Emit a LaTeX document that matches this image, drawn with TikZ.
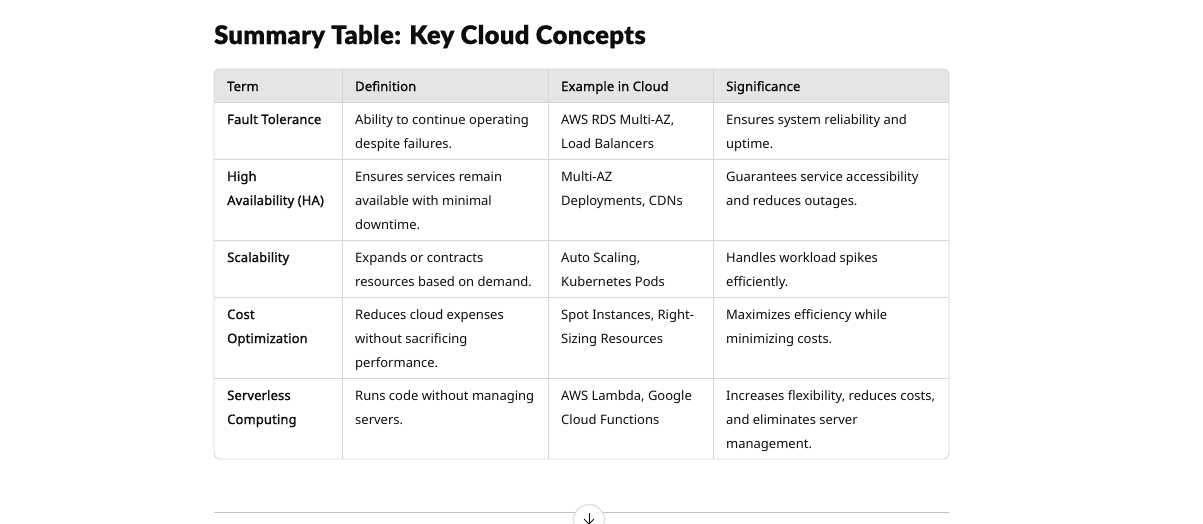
\documentclass[tikz,border=0pt]{standalone}
\usepackage{fontspec}
\setmainfont{Noto Sans}
\newfontfamily\semibold[FakeBold=1.3, LetterSpace=1]{Noto Sans}
\newfontfamily\titlefont[FakeBold=0.6, LetterSpace=1.5]{Lato Black}
\definecolor{hdr}{RGB}{229,229,229}
\definecolor{rule}{RGB}{214,214,214}
\definecolor{ink}{RGB}{13,13,13}
\tikzset{
  txt/.style={anchor=base west, inner sep=0pt, text=ink, font=\fontsize{13}{16}\selectfont},
  btxt/.style={txt, font=\semibold\fontsize{13}{16}\selectfont},
  gridline/.style={draw=rule, line width=0.9pt},
}
\newcommand\cellrows[5]{%
  \foreach \t [count=\i from 0] in {#4}
    \node[#5] (#3-\i) at (#1, #2+24*\i+5) {\t};}
\begin{document}
\begin{tikzpicture}[x=1pt,y=-1pt]
\useasboundingbox (0,0) rectangle (1203,523);
\fill[white] (0,0) rectangle (1203,523);
% title
\node[anchor=base west, inner sep=0pt, text=ink, font=\titlefont\fontsize{25.5}{28}\selectfont] (title) at (214,44) {Summary Table: Key Cloud Concepts};
% header
\fill[hdr, rounded corners=6pt] (214,69) rectangle (949,102);
\fill[hdr] (214,90) rectangle (949,102);
% row lines
\foreach \y in {102,159,240,297,378}
  \draw[gridline] (214,\y) -- (949,\y);
\foreach \x in {342,548,713}
  \draw[gridline] (\x,69) -- (\x,459);
\draw[gridline, rounded corners=6pt] (214,69) rectangle (949,459);
% header text
\cellrows{227}{86}{h1}{Term}{btxt}
\cellrows{355}{86}{h2}{Definition}{btxt}
\cellrows{561}{86}{h3}{Example in Cloud}{btxt}
\cellrows{726}{86}{h4}{Significance}{btxt}
% row 1
\cellrows{227}{119}{a1}{Fault Tolerance}{btxt}
\cellrows{355}{119}{a2}{Ability to continue operating,despite failures.}{txt}
\cellrows{561}{119}{a3}{{AWS RDS Multi-AZ,},Load Balancers}{txt}
\cellrows{726}{119}{a4}{Ensures system reliability and,uptime.}{txt}
% row 2
\cellrows{227}{176}{b1}{High,Availability (HA)}{btxt}
\cellrows{355}{176}{b2}{Ensures services remain,available with minimal,downtime.}{txt}
\cellrows{561}{176}{b3}{Multi-AZ,{Deployments, CDNs}}{txt}
\cellrows{726}{176}{b4}{Guarantees service accessibility,and reduces outages.}{txt}
% row 3
\cellrows{227}{257}{c1}{Scalability}{btxt}
\cellrows{355}{257}{c2}{Expands or contracts,resources based on demand.}{txt}
\cellrows{561}{257}{c3}{{Auto Scaling,},Kubernetes Pods}{txt}
\cellrows{726}{257}{c4}{Handles workload spikes,efficiently.}{txt}
% row 4
\cellrows{227}{314}{d1}{Cost,Optimization}{btxt}
\cellrows{355}{314}{d2}{Reduces cloud expenses,without sacrificing,performance.}{txt}
\cellrows{561}{314}{d3}{{Spot Instances, Right-},Sizing Resources}{txt}
\cellrows{726}{314}{d4}{Maximizes efficiency while,minimizing costs.}{txt}
% row 5
\cellrows{227}{395}{e1}{Serverless,Computing}{btxt}
\cellrows{355}{395}{e2}{Runs code without managing,servers.}{txt}
\cellrows{561}{395}{e3}{{AWS Lambda, Google},Cloud Functions}{txt}
\cellrows{726}{395}{e4}{{Increases flexibility, reduces costs,},and eliminates server,management.}{txt}
% bottom separator with scroll button
\coordinate (sepL) at (214,512);
\coordinate (sepR) at (949,512);
\draw[rule!90!black, line width=0.9pt] (sepL) -- (sepR);
\node[circle, draw=rule, fill=white, line width=0.9pt, minimum size=31pt, inner sep=0pt] (btn) at (589,520) {};
\coordinate (arT) at (589,513);
\coordinate (arB) at (589,524);
\draw[ink, line width=1pt] (arT) -- (arB);
\draw[ink, line width=1pt] (584,519) -- (arB) -- (594,519);
\end{tikzpicture}
\end{document}
